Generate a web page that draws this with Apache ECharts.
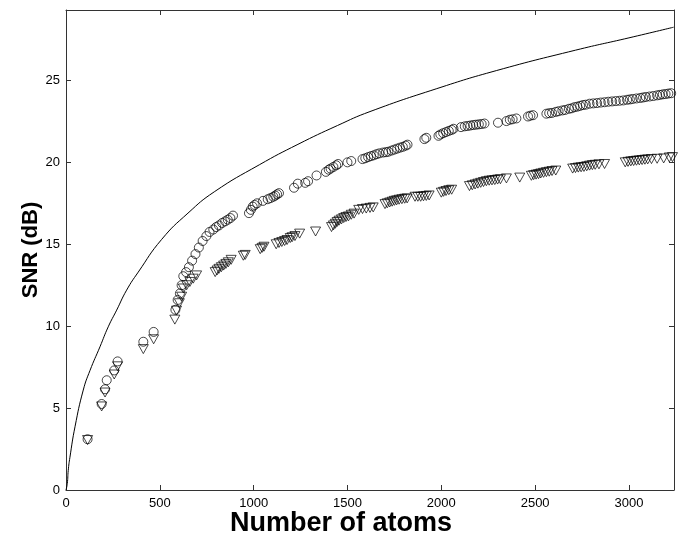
<!DOCTYPE html>
<html>
<head>
<meta charset="utf-8">
<script src="https://cdn.jsdelivr.net/npm/echarts@6/dist/echarts.min.js"></script>
<style>html,body{margin:0;padding:0;background:#fff}#c{width:684px;height:537px}</style>
</head>
<body>
<div id="c"></div>
<script>
// Bound curve (solid line)
const boundX = [0, 7, 12, 21, 48, 92, 128, 181, 225, 270, 323, 385, 510, 650, 790, 1030, 1236, 1447, 1620, 1976, 2293, 2716, 3000, 3238];
const boundY = [0, 0.4, 1.2, 2.0, 3.86, 6.1, 7.3, 8.74, 9.96, 10.98, 12.2, 13.3, 15.3, 16.9, 18.2, 19.85, 21.1, 22.25, 23.1, 24.5, 25.6, 26.85, 27.6, 28.25];

// Circles
const circleX = [115,190,208,217,257,275,412,467,
 583,595,607,616,625,640,655,672,690,708,728,748,765,785,800,815,832,848,862,876,890,
 975,985,995,1005,1018,1050,1075,1090,1105,1115,1125,1135,
 1215,1235,1275,1290,1335,1385,1400,1410,1425,1440,1450,1500,1520,
 1580,1595,1610,1625,1640,1655,1670,1690,1705,1718,1735,1750,1765,1780,1795,1810,1820,
 1910,1920,1985,1995,2010,2025,2040,2055,2065,
 2105,2125,2140,2155,2170,2185,2200,2215,2230,
 2302,2347,2365,2380,2400,2462,2475,2489,2560,2575,2590,2610,2625,
 2645,2660,2680,2695,2710,2725,2740,2755,2770,2790,2810,2830,2850,2870,2890,2910,2930,2950,2970,2990,3005,3020,3040,3060,3075,3090,3110,3130,3150,3165,3180,3195,3210,3225];
const circleY = [3.1,5.25,6.15,6.7,7.3,7.85,9.05,9.65,
 11.0,11.6,12.0,12.5,13.05,13.3,13.6,14.0,14.4,14.8,15.2,15.5,15.75,15.9,16.05,16.15,16.3,16.4,16.5,16.6,16.75,
 16.9,17.1,17.3,17.4,17.5,17.65,17.75,17.82,17.9,17.97,18.05,18.12,
 18.45,18.7,18.75,18.85,19.2,19.42,19.55,19.62,19.72,19.82,19.9,20.0,20.08,
 20.2,20.25,20.32,20.38,20.43,20.5,20.55,20.6,20.62,20.65,20.72,20.78,20.84,20.9,20.95,21.02,21.08,
 21.42,21.5,21.62,21.7,21.78,21.85,21.92,21.98,22.05,
 22.15,22.2,22.22,22.25,22.28,22.3,22.32,22.34,22.37,
 22.42,22.52,22.6,22.63,22.68,22.8,22.85,22.88,22.97,23.0,23.02,23.08,23.12,
 23.17,23.2,23.27,23.3,23.37,23.4,23.45,23.5,23.52,23.58,23.6,23.62,23.65,23.67,23.7,23.72,23.74,23.76,23.78,23.82,23.84,23.87,23.9,23.93,23.96,23.99,24.02,24.05,24.09,24.12,24.15,24.17,24.2,24.22];

// Triangles
const triX = [115,190,208,257,275,412,467,
 580,589,604,616,625,643,660,678,696,
 795,805,815,828,840,852,865,880,
 945,955,1035,1045,1055,
 1120,1135,1150,1165,1178,1195,1205,1220,1245,1330,
 1415,1425,1435,1445,1455,1468,1480,1492,1505,1520,1535,
 1560,1580,1600,1620,1637,
 1700,1712,1725,1738,1750,1762,1775,1790,1805,1818,
 1860,1875,1890,1905,1920,1935,
 2000,2012,2025,2040,2055,
 2150,2165,2180,2195,2210,2225,2240,2255,2270,2285,2300,2315,2347,
 2418,
 2480,2492,2505,2518,2530,2545,2560,2575,2590,2610,
 2700,2715,2730,2745,2760,2775,2790,2805,2820,2840,2870,
 2980,2995,3010,3025,3040,3055,3070,3085,3100,3120,3150,3185,3215,3232];
const triY = [3.05,5.1,5.95,7.05,7.55,8.6,9.2,
 10.4,10.95,11.4,11.8,12.3,12.5,12.7,12.9,13.1,
 13.3,13.4,13.5,13.6,13.7,13.8,13.9,14.05,
 14.3,14.35,14.7,14.78,14.85,
 15.0,15.08,15.14,15.2,15.26,15.38,15.43,15.5,15.65,15.78,
 16.05,16.15,16.25,16.36,16.44,16.52,16.6,16.66,16.7,16.8,16.87,
 17.1,17.15,17.18,17.22,17.25,
 17.45,17.5,17.55,17.6,17.65,17.68,17.72,17.75,17.78,17.8,
 17.9,17.9,17.9,17.93,17.95,17.98,
 18.15,18.2,18.25,18.3,18.33,
 18.55,18.6,18.65,18.7,18.75,18.8,18.85,18.88,18.9,18.92,18.95,18.97,19.02,
 19.07,
 19.18,19.22,19.25,19.28,19.32,19.36,19.4,19.43,19.47,19.5,
 19.62,19.65,19.68,19.7,19.72,19.76,19.8,19.83,19.85,19.88,19.9,
 20.0,20.03,20.06,20.08,20.1,20.12,20.14,20.16,20.18,20.2,20.22,20.24,20.3,20.32];

const xTicks = [0, 500, 1000, 1500, 2000, 2500, 3000];
const yTicks = [0, 5, 10, 15, 20, 25];

const zip = (a, b) => a.map((v, i) => [v, b[i]]);
const axisColor = '#333';
const font = '"Liberation Sans", Arial, sans-serif';

const baseX = {
  type: 'value', min: 0, max: 3240, interval: 500,
  axisLine: { show: true, onZero: false, lineStyle: { color: axisColor, width: 1 } },
  axisTick: { show: true, inside: true, length: 5, lineStyle: { color: axisColor } },
  splitLine: { show: false }
};
const baseY = {
  type: 'value', min: 0, max: 29.3, interval: 5,
  axisLine: { show: true, onZero: false, lineStyle: { color: axisColor, width: 1 } },
  axisTick: { show: true, inside: true, length: 5, lineStyle: { color: axisColor } },
  splitLine: { show: false }
};

const chart = echarts.init(document.getElementById('c'), null, { renderer: 'canvas' });
chart.setOption({
  animation: false,
  backgroundColor: '#fff',
  grid: { left: 66, right: 10, top: 10, bottom: 47, containLabel: false, outerBoundsMode: 'none' },
  xAxis: [
    Object.assign({}, baseX, {
      position: 'bottom',
      name: 'Number of atoms', nameLocation: 'middle', nameGap: 20, nameMoveOverlap: false,
      nameTextStyle: { fontFamily: font, fontWeight: 'bold', fontSize: 27, color: '#000', padding: [0, 58, 0, 0], verticalAlign: 'top' },
      axisLabel: { show: true, margin: 7, fontFamily: font, fontSize: 13, color: '#000', showMaxLabel: false,
        formatter: v => xTicks.indexOf(v) >= 0 ? String(v) : '' }
    }),
    Object.assign({}, baseX, { position: 'top', axisLabel: { show: false } })
  ],
  yAxis: [
    Object.assign({}, baseY, {
      position: 'left',
      name: 'SNR (dB)', nameLocation: 'middle', nameGap: 24, nameMoveOverlap: false,
      nameTextStyle: { fontFamily: font, fontWeight: 'bold', fontSize: 22, color: '#000' },
      axisLabel: { show: true, margin: 6, fontFamily: font, fontSize: 13, color: '#000', showMaxLabel: false,
        formatter: v => yTicks.indexOf(v) >= 0 ? String(v) : '' }
    }),
    Object.assign({}, baseY, { position: 'right', axisLabel: { show: false } })
  ],
  series: [
    {
      type: 'line', data: zip(boundX, boundY), showSymbol: false, smooth: true,
      lineStyle: { color: '#000', width: 1 }, z: 3
    },
    {
      type: 'scatter', data: zip(circleX, circleY), symbol: 'circle', symbolSize: 9,
      itemStyle: { color: 'rgba(0,0,0,0)', borderColor: '#000', borderWidth: 0.9 }
    },
    {
      type: 'scatter', data: zip(triX, triY), symbol: 'triangle', symbolSize: [10, 9], symbolRotate: 180,
      itemStyle: { color: 'rgba(0,0,0,0)', borderColor: '#000', borderWidth: 0.9 }
    }
  ]
});
</script>
</body>
</html>
